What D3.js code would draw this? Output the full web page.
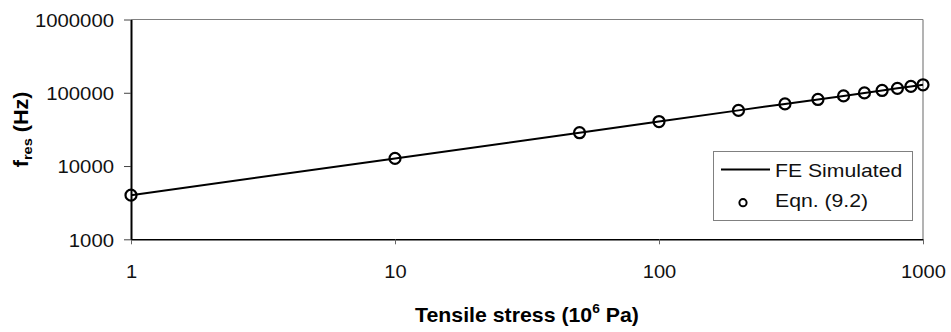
<!DOCTYPE html>
<html>
<head>
<meta charset="utf-8">
<script src="https://cdn.jsdelivr.net/npm/d3@7"></script>
<style>
  html, body { margin: 0; padding: 0; background: #fff; }
  svg { display: block; }
</style>
</head>
<body>
<div id="chart"></div>
<script>
// stress in 10^6 Pa
const stress = [1, 10, 50, 100, 200, 300, 400, 500, 600, 700, 800, 900, 1000];
// FE simulated resonance frequency (Hz)
const feSimulated = [4000, 12700, 28500, 40500, 57500, 70500, 81000, 90500, 99500, 107500, 115000, 122000, 128500];
// Eqn. (9.2) values (Hz)
const eqnValues = [4000, 12700, 28500, 40500, 57500, 70500, 81000, 90500, 99500, 107500, 115000, 122000, 128500];
const xTicks = [1, 10, 100, 1000];
const yTicks = [1000, 10000, 100000, 1000000];
const seriesNames = ["FE Simulated", "Eqn. (9.2)"];

const width = 951;
const height = 332;
const marginTop = 19.5;
const marginRight = 28;
const marginBottom = 92.7;
const marginLeft = 131;
const font = "'Liberation Sans', Arial, sans-serif";

const x = d3.scaleLog()
    .domain([1, 1000])
    .range([marginLeft, width - marginRight]);

const y = d3.scaleLog()
    .domain([1000, 1000000])
    .range([height - marginBottom, marginTop]);

const svg = d3.select("#chart")
    .append("svg")
    .attr("width", width)
    .attr("height", height)
    .attr("viewBox", [0, 0, width, height]);

// frame: top gridline and right border in gray
svg.append("line")
    .attr("x1", x(1)).attr("x2", x(1000))
    .attr("y1", y(1000000)).attr("y2", y(1000000))
    .attr("stroke", "#808080").attr("stroke-width", 1);
svg.append("line")
    .attr("x1", x(1000)).attr("x2", x(1000))
    .attr("y1", y(1000000)).attr("y2", y(1000))
    .attr("stroke", "#808080").attr("stroke-width", 1.2);

// x axis
svg.append("g")
    .attr("transform", `translate(0,${y(1000)})`)
    .call(d3.axisBottom(x).tickValues(xTicks).tickFormat(d3.format("d")).tickSize(5).tickSizeOuter(0))
    .call(g => g.select(".domain").attr("stroke", "#000").attr("stroke-width", 1.5))
    .call(g => g.selectAll(".tick line").attr("stroke", "#666"))
    .call(g => g.selectAll(".tick text")
        .attr("font-family", font)
        .attr("font-size", 19)
        .attr("fill", "#111")
        .attr("y", 25.5)
        .attr("dy", "0.71em")
        .attr("transform", "scale(1.06,1)"));

// y axis
svg.append("g")
    .attr("transform", `translate(${x(1)},0)`)
    .call(d3.axisLeft(y).tickValues(yTicks).tickFormat(d3.format("d")).tickSize(7).tickSizeOuter(0))
    .call(g => g.select(".domain").attr("stroke", "#000").attr("stroke-width", 2))
    .call(g => g.selectAll(".tick line").attr("stroke", "#444"))
    .call(g => g.selectAll(".tick text")
        .attr("font-family", font)
        .attr("font-size", 19)
        .attr("fill", "#111")
        .attr("x", -17 / 1.07)
        .attr("dy", "0.36em")
        .attr("transform", "scale(1.07,1)"));

// FE simulated line
const line = d3.line()
    .x((d, i) => x(stress[i]))
    .y(d => y(d));

svg.append("path")
    .datum(feSimulated)
    .attr("fill", "none")
    .attr("stroke", "#000")
    .attr("stroke-width", 2)
    .attr("d", line);

// Eqn points
svg.append("g")
    .selectAll("circle")
    .data(eqnValues)
    .join("circle")
    .attr("cx", (d, i) => x(stress[i]))
    .attr("cy", d => y(d))
    .attr("r", 5.5)
    .attr("fill", "none")
    .attr("stroke", "#000")
    .attr("stroke-width", 2.2);

// x axis title
svg.append("text")
    .attr("transform", `translate(${(marginLeft + width - marginRight) / 2},321.5) scale(1.065,1)`)
    .attr("text-anchor", "middle")
    .attr("font-family", font)
    .attr("font-weight", "bold")
    .attr("font-size", 20)
    .attr("fill", "#000")
    .call(t => {
        t.append("tspan").text("Tensile stress (10");
        t.append("tspan").attr("font-size", 13).attr("dy", -8.5).text("6");
        t.append("tspan").attr("dy", 8.5).text(" Pa)");
    });

// y axis title
svg.append("text")
    .attr("transform", `translate(27.5,${(marginTop + height - marginBottom) / 2}) rotate(-90) scale(1.08,1)`)
    .attr("text-anchor", "middle")
    .attr("font-family", font)
    .attr("font-weight", "bold")
    .attr("font-size", 20)
    .attr("fill", "#000")
    .call(t => {
        t.append("tspan").text("f");
        t.append("tspan").attr("font-size", 13.5).attr("dy", 4).text("res");
        t.append("tspan").attr("dy", -4).text(" (Hz)");
    });

// legend
const legend = svg.append("g");
legend.append("rect")
    .attr("x", 713.5).attr("y", 151.5)
    .attr("width", 199).attr("height", 69)
    .attr("fill", "#fff")
    .attr("stroke", "#808080")
    .attr("stroke-width", 1);
legend.append("line")
    .attr("x1", 721).attr("x2", 770)
    .attr("y1", 169.5).attr("y2", 169.5)
    .attr("stroke", "#000").attr("stroke-width", 2);
legend.append("circle")
    .attr("cx", 743).attr("cy", 202.7).attr("r", 3.6)
    .attr("fill", "none").attr("stroke", "#000").attr("stroke-width", 2);
legend.selectAll("text.leg")
    .data(seriesNames)
    .join("text")
    .attr("class", "leg")
    .attr("transform", (d, i) => `translate(775,${176.5 + i * 30.5}) scale(1.14,1)`)
    .attr("font-family", font)
    .attr("font-size", 18.6)
    .attr("fill", "#111")
    .text(d => d);
</script>
</body>
</html>
